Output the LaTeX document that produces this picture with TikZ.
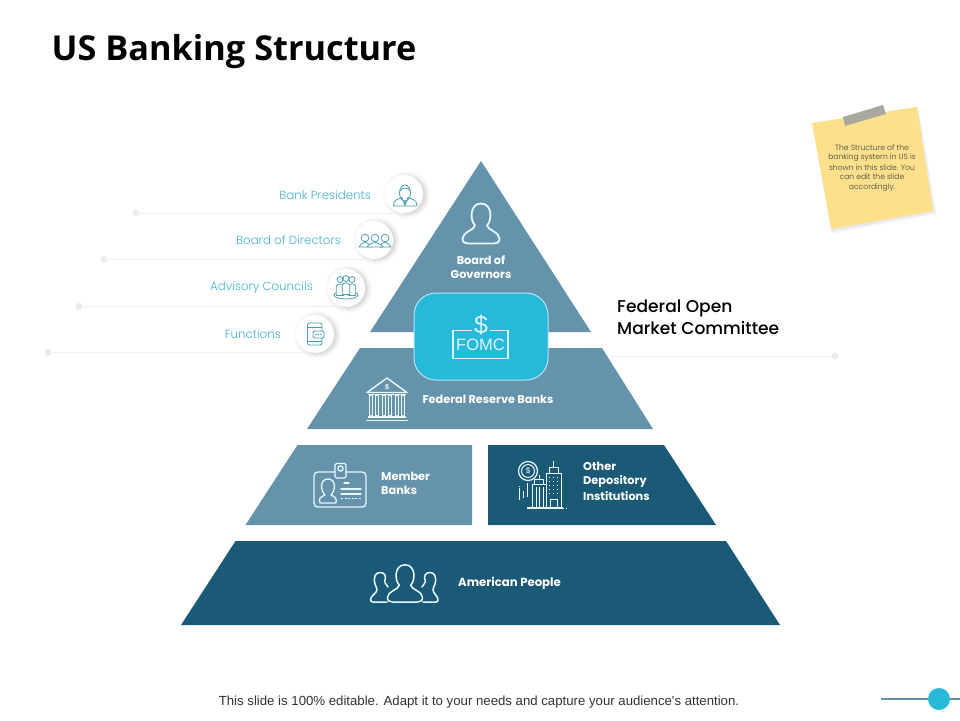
\documentclass[tikz,border=0pt]{standalone}
\usepackage{fontspec}
\setmainfont{Poppins}
\newfontfamily\titlefont{Open Sans}
\newfontfamily\arialfont{Liberation Sans}
\newfontfamily\lightfont{Poppins Light}
\newfontfamily\medfont{Poppins Medium}
\definecolor{midblue}{HTML}{6593AB}
\definecolor{darkblue}{HTML}{1A5A76}
\definecolor{cyanbox}{HTML}{26BAD8}
\definecolor{labelcyan}{HTML}{45B3CC}
\definecolor{iconteal}{HTML}{4A9DB3}
\definecolor{leader}{HTML}{ECEFF1}
\definecolor{dotgrey}{HTML}{E9ECEE}
\definecolor{notecol}{HTML}{FDE08B}
\definecolor{tapecol}{HTML}{A9A99F}
\definecolor{slidercol}{HTML}{5F949E}
\newcommand{\fs}[1]{\fontsize{#1}{#1}\selectfont}
% person outline: origin at bottom centre, 37 wide, 40 high
\newcommand{\personoutline}{(-6,-18) .. controls (-11.5,-24) and (-11,-40) .. (0,-40) .. controls (11,-40) and (11.5,-24) .. (6,-18) .. controls (7,-13) and (18,-12) .. (18.5,-5) .. controls (18.5,-1) and (16,0) .. (13,0) -- (-13,0) .. controls (-16,0) and (-18.5,-1) .. (-18.5,-5) .. controls (-18,-12) and (-7,-13) .. (-6,-18) -- cycle}
\tikzset{
  x=1pt,y=-1pt,
  tierlabel/.style={text=white,font=\fs{11.3}\bfseries,align=center,inner sep=0pt},
  tierleft/.style={text=white,font=\fs{11.3}\bfseries,align=left,inner sep=0pt},
  sidelabel/.style={text=labelcyan,font=\lightfont\fs{11.8},anchor=east,inner sep=0pt},
  pill/.style={circle,fill=white,minimum size=38pt,inner sep=0pt},
  enddot/.style={circle,fill=dotgrey,minimum size=7pt,inner sep=0pt},
  leaderline/.style={draw=leader,line width=1pt},
  whiteicon/.style={draw=white!90!cyan,line width=1.5pt,line join=round,line cap=round},
  thinicon/.style={draw=white!92!cyan,line width=1pt,line join=round},
  tealicon/.style={draw=iconteal,line width=.8pt,line join=round},
}
\begin{document}
\begin{tikzpicture}
\useasboundingbox (0,0) rectangle (960,720);
\fill[white] (0,0) rectangle (960,720);

% title
\node[anchor=west,inner sep=0pt,font=\titlefont\bfseries\fs{34.3}] (title) at (51.5,52) {US Banking Structure};

% pyramid tiers
\fill[midblue] (481,161) -- (591,332) -- (370,332) -- cycle;
\fill[midblue] (360,348) -- (602,348) -- (653,429) -- (307,429) -- cycle;
\fill[midblue] (297.5,445) -- (472,445) -- (472,525) -- (245.5,525) -- cycle;
\fill[darkblue] (488,445) -- (664,445) -- (716,525) -- (488,525) -- cycle;
\fill[darkblue] (235.5,541) -- (726,541) -- (780,625) -- (181,625) -- cycle;

% side pills: soft shadows
\foreach \cx/\cy in {404/194,374/240,346/288,315/334}{
  \foreach \r/\o in {24/.012,23/.015,22/.02,21/.025,20/.03,19/.035}{
    \fill[black,opacity=\o] (\cx+2.5,\cy+1) circle[radius=\r];
  }
}
\node[pill] (p1) at (404,194) {};
\node[pill] (p2) at (374,240) {};
\node[pill] (p3) at (346,288) {};
\node[pill] (p4) at (315,334) {};
\node[enddot] (d1) at (136,213) {};
\node[enddot] (d2) at (104,259) {};
\node[enddot] (d3) at (79,306.5) {};
\node[enddot] (d4) at (48,352.5) {};
\draw[leaderline] (d1) -- (d1 -| p1);
\draw[leaderline] (d2) -- (d2 -| p2);
\draw[leaderline] (d3) -- (d3 -| p3);
\draw[leaderline] (d4) -- (d4 -| p4);

\node[sidelabel] (l1) at (371,195) {Bank Presidents};
\node[sidelabel] (l2) at (341,240.5) {Board of Directors};
\node[sidelabel] (l3) at (313,288) {Advisory Councils};
\node[sidelabel] (l4) at (281,334) {Functions};

% bank president icon
\begin{scope}[tealicon]
  \draw (405,193) ellipse (5.5 and 8);
  \draw (400,191) .. controls (402,187) and (408,187) .. (410.5,191);
  \draw (393.5,206) .. controls (393,200) and (398,199) .. (402,197.5) -- (405,205) -- (408,197.5) .. controls (412,199) and (417,200) .. (417,206) -- cycle;
  \draw (404,200) -- (405,206) -- (406,200);
\end{scope}
% board of directors icon
\begin{scope}[tealicon]
  \foreach \hx/\hy/\w in {365/238/6,385/238/6,375/238/8}{
    \draw[fill=white] (\hx,\hy) circle[radius=3.8];
    \draw[fill=white] (\hx-\w,\hy+9) .. controls (\hx-\w+1,\hy+6) and (\hx-3,\hy+6) .. (\hx,\hy+4) .. controls (\hx+3,\hy+6) and (\hx+\w-1,\hy+6) .. (\hx+\w,\hy+9) -- cycle;
  }
\end{scope}
% advisory councils icon
\begin{scope}[tealicon]
  \draw (346,295) ellipse (12 and 4);
  \foreach \hx/\hy in {340/279.5,352/279.5,346/278.5}{
    \draw[fill=white] (\hx,\hy) circle[radius=3];
    \draw[fill=white] (\hx-3.8,\hy+16) -- (\hx-3.8,\hy+7) .. controls (\hx-3.8,\hy+3.5) and (\hx+3.8,\hy+3.5) .. (\hx+3.8,\hy+7) -- (\hx+3.8,\hy+16) -- cycle;
  }
\end{scope}
% functions icon
\begin{scope}[tealicon]
  \draw[rounded corners=2pt] (307.5,323) rectangle (322,345);
  \draw (307.5,327) -- (322,327) (307.5,341) -- (322,341);
  \draw[fill=white,rounded corners=1.5pt] (313,331) rectangle (324,338);
  \fill[iconteal] (316,334.5) circle[radius=.8] (318.5,334.5) circle[radius=.8] (321,334.5) circle[radius=.8];
\end{scope}

% Board of Governors
\draw[whiteicon,line width=1.8pt,shift={(481,243.5)}] \personoutline;
\node[tierlabel] (gov) at (481,267) {Board of\\[2.5pt]Governors};

% FOMC box
\node[draw=white!70!cyan,line width=1pt,fill=cyanbox,rounded corners=22pt,minimum width=134pt,minimum height=87pt,inner sep=0pt] (fomc) at (481,336.5) {};
\draw[draw=white!85!cyan,line width=1.2pt] (472,330.5) -- (453,330.5) -- (453,358.5) -- (508,358.5) -- (508,330.5) -- (490,330.5);
\node[text=white!85!cyan,font=\arialfont\fs{25},inner sep=0pt] (dollar) at (481,325) {\$};
\node[text=white!85!cyan,font=\arialfont\fs{16.5},inner sep=0pt] (fomct) at (480.5,345) {FOMC};

% Federal Open Market Committee
\node[anchor=west,align=left,inner sep=0pt,font=\medfont\fs{17.1}] (fed) at (617,317.5) {Federal Open\\[3.6pt]Market Committee};
\coordinate (fedstart) at (612,356);
\node[enddot] (d5) at (835,356) {};
\draw[leaderline] (fedstart) -- (d5);

% Federal Reserve Banks
\node[tierlabel] (frb) at (488,399) {Federal Reserve Banks};
\begin{scope}[thinicon]
  \draw[line width=1.4pt] (387,378) -- (367,392.5) -- (407,392.5) -- cycle;
  \node[text=white,font=\arialfont\bfseries\fs{7},inner sep=0pt] (bankd) at (387,387.5) {\$};
  \foreach \x in {371,377,384,390,397,403}{
    \draw[line width=1.1pt] (\x-1.6,395) rectangle (\x+1.6,416);
  }
  \draw[line width=1.4pt] (368,394.5) -- (406,394.5);
  \draw[line width=1.4pt] (368,417) -- (406,417);
  \draw[line width=1.4pt] (366,420.5) -- (408,420.5);
\end{scope}

% Member Banks
\node[tierleft] (mem) at (381,483) [anchor=west] {Member\\[2.5pt]Banks};
\begin{scope}[whiteicon,line width=1.3pt]
  \draw (335,472) -- (318,472) .. controls (315.5,472) and (314,473.5) .. (314,476) -- (314,503) .. controls (314,505.5) and (315.5,507) .. (318,507) -- (362,507) .. controls (364.5,507) and (366,505.5) .. (366,503) -- (366,476) .. controls (366,473.5) and (364.5,472) .. (362,472) -- (346,472);
  \draw[rounded corners=1.5pt] (335,463.5) rectangle (346,478);
  \draw (340.5,468.5) circle[radius=2.6];
  \draw (320,503) .. controls (318,498) and (321,497) .. (325,495) .. controls (320,490) and (320,479) .. (328,479) .. controls (336,479) and (336,490) .. (331,495) .. controls (335,497) and (337,498) .. (336,503) -- cycle;
  \draw (344,483) -- (349,483) (341,489) -- (361,489) (341,494) -- (361,494);
  \draw[dash pattern=on 2pt off 1.6pt,line cap=butt] (341,498.5) -- (361,498.5);
\end{scope}

% Other Depository Institutions
\node[tierleft,anchor=west] (odi) at (583,481.5) {Other\\[2.5pt]Depository\\[2.5pt]Institutions};
\begin{scope}[thinicon]
  \draw[line width=1.2pt] (528,471) circle[radius=9.5];
  \draw (528,471) circle[radius=6.5];
  \node[text=white,font=\arialfont\fs{8},inner sep=0pt] (coind) at (528,471) {\$};
  % tall building
  \draw (546,508) -- (546,473) -- (561,473) -- (561,508);
  \draw (549,473) -- (549,467) -- (558,467) -- (558,473) (553.5,467) -- (553.5,461);
  \draw (550,508) -- (550,499) -- (557,499) -- (557,508);
  \foreach \x in {549.5,553.5,557.5}{
    \draw[dash pattern=on 1pt off 3pt] (\x,477) -- (\x,497);
  }
  % short building
  \draw (532,508) -- (532,484) -- (546,484);
  \draw (534.5,484) -- (534.5,479) -- (543,479) -- (543,484) (539,479) -- (539,475);
  \foreach \x in {536,539.5,543}{ \draw (\x,487) -- (\x,508); }
  \draw[line width=1.1pt] (527,508) -- (563,508);
  \draw[dash pattern=on 1pt off 1.5pt] (563,508) -- (566,508);
  % rising lines
  \draw (519,489) -- (519,500);
  \draw[dash pattern=on 1pt off 1.2pt] (519,486) -- (519,489);
  \draw (523,491) -- (523,498);
  \draw (527,483) -- (527,497);
\end{scope}

% American People
\node[tierleft,anchor=west,font=\fs{11.7}\bfseries] (amp) at (458,583.5) {American People};
\begin{scope}[whiteicon,line width=1.5pt]
  \draw[shift={(405,602)},xscale=.95,yscale=.93] \personoutline;
  \draw (388,587) .. controls (386,584) and (385,583) .. (384.5,581.5) .. controls (387,575) and (384,572.5) .. (380,572.5) .. controls (376,572.5) and (373,576) .. (375,584) .. controls (376,587) and (377,588) .. (377,590) .. controls (377,593) and (370,596) .. (370.5,600) .. controls (370.5,601.5) and (372,602) .. (373,602) -- (387,602);
  \draw (422,587) .. controls (424,584) and (425,583) .. (425.5,581.5) .. controls (423,575) and (426,572.5) .. (430,572.5) .. controls (434,572.5) and (437,576) .. (435,584) .. controls (434,587) and (433,588) .. (433,590) .. controls (433,593) and (438,596) .. (438,600) .. controls (438,601.5) and (437,602) .. (436,602) -- (423,602);
\end{scope}

% sticky note
\fill[black,opacity=.03] (814,126) -- (919,110) -- (937,214) -- (832,234) -- cycle;
\fill[black,opacity=.05] (813,125) -- (918,109) -- (935,213) -- (832,232) -- cycle;
\fill[notecol] (812,123) -- (917,107) -- (933,211) -- (831,229) -- cycle;
\fill[tapecol] (843,117) -- (883,105) -- (886,114) -- (845,126) -- cycle;
\node[align=center,inner sep=0pt,font=\lightfont\fs{7.6},text=black!75] (note) at (872,168) {The Structure of the\\[1.9pt]banking system in US is\\[1.9pt]shown in this slide. You\\[1.9pt]can edit the slide\\[1.9pt]accordingly.};

% footer
\node[inner sep=0pt,font=\arialfont\fs{13.2},text=black!80] (foot) at (479,702) {This slide is 100\% editable. Adapt it to your needs and capture your audience's attention.};
\coordinate (sl) at (881,699);
\coordinate (sr) at (960,699);
\node[circle,fill=cyanbox,minimum size=22pt,inner sep=0pt] (knob) at (939,699) {};
\draw[draw=slidercol,line width=2.5pt] (sl) -- (knob);
\draw[draw=slidercol,line width=2.5pt] (knob) -- (sr);
\end{tikzpicture}
\end{document}
